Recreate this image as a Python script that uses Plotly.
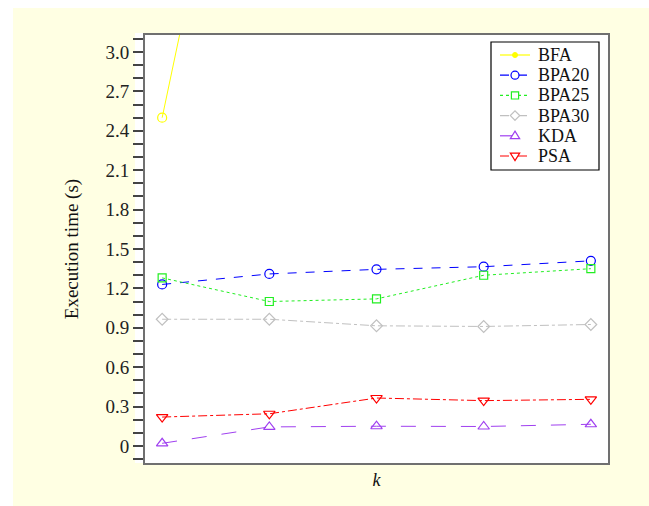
import plotly.graph_objects as go

k_values = [0, 1, 2, 3, 4]
series_names = ["BFA", "BPA20", "BPA25", "BPA30", "KDA", "PSA"]
bfa = [2.5, 6.2, 10.0, 14.0, 18.0]
bpa20 = [1.23, 1.31, 1.345, 1.365, 1.41]
bpa25 = [1.28, 1.10, 1.12, 1.30, 1.35]
bpa30 = [0.965, 0.965, 0.915, 0.91, 0.925]
kda = [0.02, 0.145, 0.15, 0.148, 0.165]
psa = [0.22, 0.245, 0.365, 0.345, 0.355]
y_tick_vals = [0, 0.3, 0.6, 0.9, 1.2, 1.5, 1.8, 2.1, 2.4, 2.7, 3.0]
y_tick_text = ["0", "0.3", "0.6", "0.9", "1.2", "1.5", "1.8", "2.1", "2.4", "2.7", "3.0"]

colors = ["#FFFF00", "#0000FF", "#22EE22", "#C0C0C0", "#A040F0", "#FF0000"]
dashes = ["solid", "dash", "dot", "dashdot", "longdash", "dashdot"]
symbols = ["circle-open", "circle-open", "square-open", "diamond-open", "triangle-up-open", "triangle-down-open"]
sizes = [9, 9, 8, 9, 10, 10]
data = [bfa, bpa20, bpa25, bpa30, kda, psa]

fig = go.Figure()
for name, ys, col, dash, sym, sz in zip(series_names, data, colors, dashes, symbols, sizes):
    fig.add_trace(go.Scatter(
        x=k_values, y=ys, name=name, mode="lines+markers",
        line=dict(color=col, width=1, dash=dash),
        marker=dict(symbol=sym, size=sz, color=col, line=dict(width=1.2, color=col)),
        showlegend=False,
    ))

W, H = 649, 506
L, R, T, B = 145, 41, 35, 43
pw, ph = W - L - R, H - T - B

def px(x):
    return (x - L) / pw

def py(y):
    return (H - B - y) / ph

font_family = "Liberation Serif"

# backgrounds
fig.add_shape(type="rect", xref="paper", yref="paper",
              x0=px(13), x1=px(660), y0=py(520), y1=py(8),
              fillcolor="#FFFFE3", line=dict(width=0), layer="below")
fig.add_shape(type="rect", xref="paper", yref="paper",
              x0=px(135), x1=1, y0=0, y1=py(33),
              fillcolor="white", line=dict(width=0), layer="below")

# custom legend (box, sample lines, symbols, labels)
leg_left, leg_right, leg_top, leg_bottom = 491, 599, 42, 170
fig.add_shape(type="rect", xref="paper", yref="paper",
              x0=px(leg_left), x1=px(leg_right), y0=py(leg_bottom), y1=py(leg_top),
              fillcolor="white", line=dict(color="black", width=1.2))
row0, row_step = 55, 20.2

def sym_path(kind, r):
    if kind == "square-open":
        return f"M{-r},{-r} L{r},{-r} L{r},{r} L{-r},{r} Z"
    if kind == "diamond-open":
        return f"M0,{-r*1.3} L{r*1.3},0 L0,{r*1.3} L{-r*1.3},0 Z"
    if kind == "triangle-up-open":
        return f"M0,{r*1.3} L{r*1.3},{-r*0.8} L{-r*1.3},{-r*0.8} Z"
    if kind == "triangle-down-open":
        return f"M0,{-r*1.3} L{r*1.3},{r*0.8} L{-r*1.3},{r*0.8} Z"
    return None

for i, (name, col, dash, sym) in enumerate(zip(series_names, colors, dashes, symbols)):
    yy = row0 + i * row_step
    fig.add_shape(type="line", xref="paper", yref="paper",
                  x0=px(500), x1=px(530), y0=py(yy), y1=py(yy),
                  line=dict(color=col, width=1.2, dash=dash))
    if i == 0:
        fig.add_shape(type="circle", xref="paper", yref="paper",
                      xsizemode="pixel", ysizemode="pixel",
                      xanchor=px(515), yanchor=py(yy),
                      x0=-2.5, x1=2.5, y0=-2.5, y1=2.5,
                      fillcolor=col, line=dict(color=col, width=1))
    elif sym == "circle-open":
        fig.add_shape(type="circle", xref="paper", yref="paper",
                      xsizemode="pixel", ysizemode="pixel",
                      xanchor=px(515), yanchor=py(yy),
                      x0=-4, x1=4, y0=-4, y1=4,
                      fillcolor="white", line=dict(color=col, width=1.2))
    else:
        fig.add_shape(type="path", xref="paper", yref="paper",
                      xsizemode="pixel", ysizemode="pixel",
                      xanchor=px(515), yanchor=py(yy),
                      path=sym_path(sym, 3.6),
                      fillcolor="white", line=dict(color=col, width=1.2))
    fig.add_annotation(xref="paper", yref="paper", x=px(536), y=py(yy),
                       xanchor="left", yanchor="middle", showarrow=False,
                       text=name, font=dict(family=font_family, size=18, color="#111111"))

fig.update_layout(
    width=W, height=H,
    margin=dict(l=L, r=R, t=T, b=B),
    paper_bgcolor="white", plot_bgcolor="white",
    font=dict(family=font_family, size=18, color="#222222"),
    showlegend=False,
)
fig.update_xaxes(
    range=[-0.16, 4.16], showgrid=False, zeroline=False,
    showticklabels=False, ticks="",
    showline=True, linecolor="#707070", linewidth=2, mirror=True,
    title=dict(text="<i>k</i>", font=dict(family=font_family, size=18, color="#111111"), standoff=9),
)
fig.update_yaxes(
    range=[-0.13, 3.13], showgrid=False, zeroline=False,
    tickmode="array", tickvals=y_tick_vals, ticktext=y_tick_text,
    ticks="outside", ticklen=10, tickwidth=1.5, tickcolor="#444444",
    minor=dict(dtick=0.1, tick0=0, ticks="outside", ticklen=10, tickwidth=1.5, tickcolor="#444444"),
    tickfont=dict(family=font_family, size=19, color="#222222"),
    showline=True, linecolor="#707070", linewidth=2, mirror=True,
    title=dict(text="Execution time (s)", font=dict(family=font_family, size=19, color="#111111"), standoff=22),
)

fig.write_html("out.html")
